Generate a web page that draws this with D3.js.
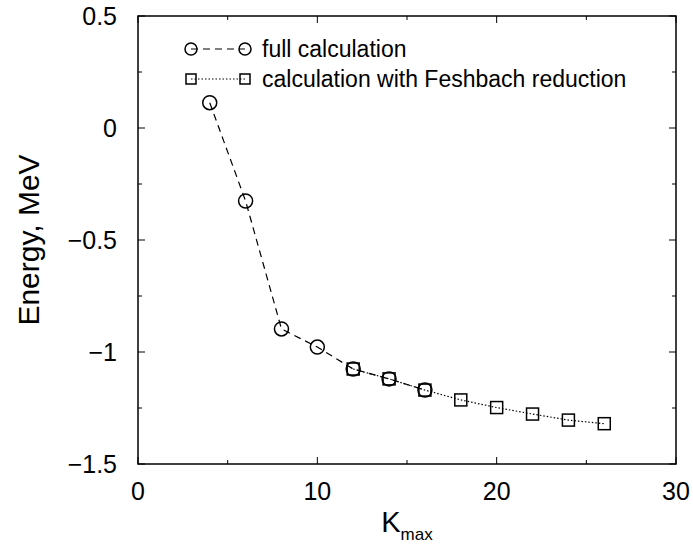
<!DOCTYPE html>
<html lang="en">
<head>
    <meta charset="UTF-8">
    <title>Energy vs Kmax</title>
    <style>
        body { margin: 0; background: #fff; }
        text { font-family: "Liberation Sans", Arial, sans-serif; fill: #000; }
        .tick-label { font-size: 25px; }
        .legend-text { font-size: 23px; }
    </style>
    <script src="https://d3js.org/d3.v7.min.js"></script>
</head>
<body>
    <div id="chart"></div>
    <script>
        // data
        const fullK = [4, 6, 8, 10, 12, 14, 16];
        const fullE = [0.113, -0.326, -0.897, -0.978, -1.076, -1.120, -1.170];
        const feshK = [12, 14, 16, 18, 20, 22, 24, 26];
        const feshE = [-1.076, -1.120, -1.170, -1.214, -1.248, -1.277, -1.304, -1.320];
        const xTicks = [0, 10, 20, 30];
        const yTicks = [0.5, 0, -0.5, -1, -1.5];

        const width = 693, height = 550;
        const margin = { left: 138, top: 16, right: 17, bottom: 86 };
        const w = width - margin.left - margin.right;
        const h = height - margin.top - margin.bottom;

        const svg = d3.select("#chart").append("svg")
            .attr("width", width)
            .attr("height", height);

        const g = svg.append("g")
            .attr("transform", `translate(${margin.left},${margin.top})`);

        const x = d3.scaleLinear().domain([0, 30]).range([0, w]);
        const y = d3.scaleLinear().domain([-1.5, 0.5]).range([h, 0]);

        const fmt = d => d3.format("")(d).replace("-", "\u2212");

        // ticks, pointing inward on all four sides
        const xMinor = d3.range(0, 31, 5);
        const yMinor = d3.range(-1.5, 0.51, 0.25);
        xMinor.forEach(v => {
            const len = v % 10 === 0 ? 7 : 4;
            g.append("line").attr("x1", x(v)).attr("x2", x(v)).attr("y1", h).attr("y2", h - len).attr("stroke", "#000");
            g.append("line").attr("x1", x(v)).attr("x2", x(v)).attr("y1", 0).attr("y2", len).attr("stroke", "#000");
        });
        yMinor.forEach(v => {
            const len = Math.abs(v * 2 - Math.round(v * 2)) < 1e-6 ? 7 : 4;
            g.append("line").attr("x1", 0).attr("x2", len).attr("y1", y(v)).attr("y2", y(v)).attr("stroke", "#000");
            g.append("line").attr("x1", w).attr("x2", w - len).attr("y1", y(v)).attr("y2", y(v)).attr("stroke", "#000");
        });

        // frame
        g.append("rect")
            .attr("width", w).attr("height", h)
            .attr("fill", "none").attr("stroke", "#000").attr("stroke-width", 1.5);

        // tick labels
        g.selectAll(".xl").data(xTicks).enter().append("text")
            .attr("class", "tick-label")
            .attr("x", d => x(d)).attr("y", h + 36)
            .attr("text-anchor", "middle")
            .text(fmt);
        g.selectAll(".yl").data(yTicks).enter().append("text")
            .attr("class", "tick-label")
            .attr("x", -21).attr("y", d => y(d) + 9)
            .attr("text-anchor", "end")
            .text(fmt);

        // axis titles
        svg.append("text")
            .attr("transform", `translate(39,${margin.top + h / 2}) rotate(-90)`)
            .attr("text-anchor", "middle")
            .style("font-size", "30px")
            .text("Energy, MeV");
        const xt = svg.append("text")
            .attr("x", margin.left + w / 2).attr("y", 532)
            .attr("text-anchor", "middle")
            .style("font-size", "29px");
        xt.append("tspan").text("K");
        xt.append("tspan").attr("dy", 8).style("font-size", "17px").text("max");

        const line = d3.line().x(d => x(d[0])).y(d => y(d[1]));
        const fullPts = fullK.map((k, i) => [k, fullE[i]]);
        const feshPts = feshK.map((k, i) => [k, feshE[i]]);

        g.append("path").datum(feshPts).attr("d", line)
            .attr("fill", "none").attr("stroke", "#000").attr("stroke-width", 1.2)
            .attr("stroke-dasharray", "1.5,2");
        g.append("path").datum(fullPts).attr("d", line)
            .attr("fill", "none").attr("stroke", "#000").attr("stroke-width", 1.2)
            .attr("stroke-dasharray", "7,5");

        g.selectAll(".sq").data(feshPts).enter().append("rect")
            .attr("x", d => x(d[0]) - 6).attr("y", d => y(d[1]) - 6)
            .attr("width", 12).attr("height", 12)
            .attr("fill", "none").attr("stroke", "#000").attr("stroke-width", 1.5);
        g.selectAll(".ci").data(fullPts).enter().append("circle")
            .attr("cx", d => x(d[0])).attr("cy", d => y(d[1]))
            .attr("r", 7)
            .attr("fill", "none").attr("stroke", "#000").attr("stroke-width", 1.5);

        // legend
        const lg = svg.append("g");
        const lx1 = 191, lx2 = 245, ly1 = 49, ly2 = 79;
        lg.append("line").attr("x1", lx1).attr("x2", lx2).attr("y1", ly1).attr("y2", ly1)
            .attr("stroke", "#000").attr("stroke-width", 1.2).attr("stroke-dasharray", "7,5");
        [lx1, lx2].forEach(cx => lg.append("circle").attr("cx", cx).attr("cy", ly1).attr("r", 6)
            .attr("fill", "none").attr("stroke", "#000").attr("stroke-width", 1.5));
        lg.append("line").attr("x1", lx1).attr("x2", lx2).attr("y1", ly2).attr("y2", ly2)
            .attr("stroke", "#000").attr("stroke-width", 1.2).attr("stroke-dasharray", "1.5,2");
        [lx1, lx2].forEach(cx => lg.append("rect").attr("x", cx - 5).attr("y", ly2 - 5)
            .attr("width", 10).attr("height", 10)
            .attr("fill", "none").attr("stroke", "#000").attr("stroke-width", 1.5));
        lg.append("text").attr("class", "legend-text").attr("x", 262).attr("y", ly1 + 8).text("full calculation");
        lg.append("text").attr("class", "legend-text").attr("x", 262).attr("y", ly2 + 8).text("calculation with Feshbach reduction");
    </script>
</body>
</html>
